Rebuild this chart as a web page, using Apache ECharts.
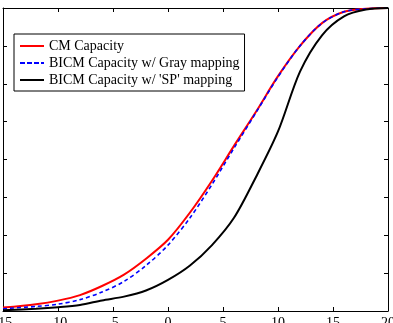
<!DOCTYPE html>
<html>
<head>
<meta charset="utf-8">
<script src="https://cdn.jsdelivr.net/npm/echarts@6/dist/echarts.min.js"></script>
<style>
  html, body { margin: 0; padding: 0; background: #fff; }
  #chart { width: 393px; height: 323px; }
</style>
</head>
<body>
<div id="chart"></div>
<script>
// SNR (dB) on x, capacity on y
const snr = [-15, -12, -10, -8, -6, -4, -2, 0, 2, 4, 6, 8, 10, 12, 14, 16, 18, 20];
const cmCap = [0.045, 0.09, 0.137, 0.21, 0.33, 0.48, 0.69, 0.94, 1.3, 1.72, 2.18, 2.63, 3.1, 3.5, 3.8, 3.95, 3.99, 4.0];
const grayCap = [0.03, 0.06, 0.09, 0.15, 0.25, 0.39, 0.6, 0.87, 1.23, 1.67, 2.15, 2.62, 3.09, 3.5, 3.8, 3.95, 3.99, 4.0];
const spCap = [0.01, 0.03, 0.05, 0.08, 0.14, 0.19, 0.27, 0.41, 0.6, 0.87, 1.23, 1.77, 2.37, 3.16, 3.64, 3.89, 3.98, 4.0];
const seriesNames = ["CM Capacity", "BICM Capacity w/ Gray mapping", "BICM Capacity w/ 'SP' mapping"];

const chart = echarts.init(document.getElementById("chart"));
const font = "Liberation Serif";
const solidIcon = "path://M0,0h24v2h-24z";
const dashIcon = "path://M0,0h5v2h-5zM7,0h5v2h-5zM14,0h5v2h-5zM21,0h3v2h-3z";

function pairs(ys) {
  return snr.map((x, i) => [x, ys[i]]);
}

function frameAxis(pos, show) {
  const horiz = pos === "top" || pos === "bottom";
  return {
    type: "value",
    position: pos,
    min: horiz ? -15 : 0,
    max: horiz ? 20 : 4,
    interval: horiz ? 5 : 0.5,
    axisLine: { show: true, onZero: false, lineStyle: { color: "#000", width: 1 } },
    axisTick: { show: true, inside: true, length: 4, lineStyle: { color: "#000" } },
    axisLabel: show
      ? { show: true, margin: 5, color: "#000", fontFamily: font, fontSize: 14 }
      : { show: false },
    splitLine: { show: false },
  };
}

function line(name, ys, color, type, width) {
  return {
    name,
    type: "line",
    data: pairs(ys),
    symbol: "none",
    showSymbol: false,
    smooth: 0.3,
    lineStyle: { color, type, width },
    itemStyle: { color },
  };
}

chart.setOption({
  animation: false,
  backgroundColor: "#fff",
  grid: { left: 3, right: 5, top: 8, bottom: 12, containLabel: false, outerBoundsMode: "none" },
  xAxis: [frameAxis("bottom", true), frameAxis("top", false)],
  yAxis: [frameAxis("left", false), frameAxis("right", false)],
  legend: {
    orient: "vertical",
    left: 14,
    top: 34,
    padding: [5, 5, 4, 6],
    itemGap: 3,
    itemWidth: 24,
    itemHeight: 14,
    borderColor: "#000",
    borderWidth: 1,
    backgroundColor: "#fff",
    textStyle: { fontFamily: font, fontSize: 14, color: "#000" },
    data: [
      { name: seriesNames[0], icon: solidIcon },
      { name: seriesNames[1], icon: dashIcon },
      { name: seriesNames[2], icon: solidIcon },
    ],
  },
  series: [
    line(seriesNames[0], cmCap, "#ff0000", "solid", 2),
    line(seriesNames[1], grayCap, "#0000ff", [4, 3], 1.6),
    line(seriesNames[2], spCap, "#000000", "solid", 2),
  ],
});
</script>
</body>
</html>
